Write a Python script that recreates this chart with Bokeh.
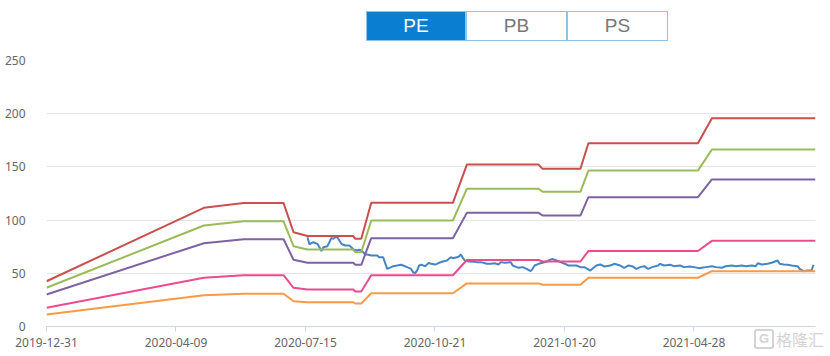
from bokeh.plotting import figure
from bokeh.models import Range1d, FixedTicker, Div
from bokeh.layouts import column
from bokeh.embed import file_html
from bokeh.resources import INLINE

# ---- data (x = trading-day index, 387 points: 2019-12-31 .. 2021-06) ----
n_points = 387
tick_idx = [0, 65, 130, 195, 260, 325]
tick_labels = ["2019-12-31", "2020-04-09", "2020-07-15", "2020-10-21", "2021-01-20", "2021-04-28"]
y_ticks = [0, 50, 100, 150, 200, 250]

band_x = [0, 79, 99, 119, 124, 131, 154, 155, 158, 163, 204, 211, 247, 249, 268, 272, 327, 334, 386]
band_red = [42.5, 111.5, 116.0, 116.0, 88.6, 85.0, 85.0, 82.4, 82.4, 116.2, 116.2, 152.2, 152.2, 148.2, 148.2, 172.2, 172.2, 195.8, 195.8]
band_green = [36.4, 94.9, 98.9, 98.9, 75.5, 72.4, 72.4, 69.8, 69.8, 99.6, 99.6, 129.4, 129.4, 126.6, 126.6, 146.5, 146.5, 166.4, 166.4]
band_purple = [30.1, 78.3, 82.0, 82.0, 62.7, 59.9, 59.9, 58.0, 58.0, 83.0, 83.0, 106.8, 106.8, 104.3, 104.3, 121.5, 121.5, 138.2, 138.2]
band_pink = [17.6, 45.8, 48.2, 48.2, 36.4, 34.8, 34.8, 32.9, 32.9, 48.2, 48.2, 62.5, 62.5, 61.1, 61.1, 70.9, 70.9, 80.5, 80.5]
band_orange = [11.3, 29.4, 30.8, 30.8, 23.8, 22.8, 22.8, 21.6, 21.6, 31.3, 31.3, 40.5, 40.5, 39.2, 39.2, 45.8, 45.8, 52.0, 52.0]

pe_x = [131, 132, 133, 134, 136, 137, 138, 139, 141, 142, 143, 144, 145, 146, 147, 148, 150, 152, 153, 154,
        156, 157, 158, 159, 160, 161, 163, 164, 166, 167, 169, 170, 171, 173, 174, 176, 178, 179, 181, 183,
        184, 185, 186, 187, 188, 190, 191, 192, 193, 195, 196, 197, 199, 201, 202, 203, 204, 206, 207, 208,
        209, 210, 212, 213, 216, 218, 221, 223, 225, 227, 228, 230, 233, 234, 236, 237, 239, 241, 243, 244,
        245, 247, 249, 251, 252, 254, 255, 257, 258, 261, 262, 266, 268, 270, 273, 274, 276, 278, 280, 283,
        285, 288, 290, 292, 294, 296, 298, 300, 302, 304, 307, 308, 310, 313, 315, 318, 320, 323, 325, 328,
        329, 331, 334, 336, 339, 341, 344, 346, 349, 351, 354, 356, 357, 359, 362, 364, 367, 368, 370, 372,
        374, 377, 378, 380, 382, 384, 385]
pe_val = [83.9, 77.1, 78.3, 79.2, 77.7, 74.5, 70.8, 74.5, 75.5, 79.2, 83.3, 82.4, 83.9, 83.9, 80.8, 77.7, 76.1, 76.1, 74.5, 72.4,
          71.4, 72.1, 71.4, 69.8, 67.7, 67.7, 66.7, 66.7, 66.7, 65.1, 65.1, 59.5, 54.2, 55.8, 56.7, 57.3, 58.0, 57.3, 55.8, 54.2,
          51.0, 50.1, 52.6, 57.3, 58.0, 56.7, 58.3, 59.9, 58.9, 58.3, 58.9, 59.9, 61.1, 62.0, 63.6, 65.1, 64.2, 65.1, 65.8, 67.7,
          64.4, 62.0, 61.1, 61.1, 60.5, 60.5, 58.9, 58.9, 59.5, 58.3, 60.5, 59.9, 60.5, 57.3, 55.8, 55.2, 55.8, 54.2, 52.0, 54.2,
          57.3, 58.9, 59.9, 61.1, 62.0, 63.6, 62.7, 61.4, 60.5, 58.3, 57.3, 57.3, 55.8, 55.8, 52.6, 54.2, 57.3, 58.3, 56.4, 57.3,
          58.9, 57.3, 55.2, 57.3, 56.7, 54.2, 55.8, 56.7, 54.2, 55.8, 57.3, 58.9, 57.3, 58.0, 56.7, 57.3, 55.8, 56.4, 55.8, 54.8,
          55.2, 55.8, 56.7, 55.8, 55.2, 56.7, 57.3, 56.7, 57.3, 56.7, 57.3, 56.7, 59.5, 58.3, 58.9, 59.9, 62.0, 58.9, 58.3, 58.0,
          57.3, 56.7, 54.2, 52.0, 52.6, 52.6, 58.0]

band_series = [
    (band_red, "#c9504e"),
    (band_green, "#9bbb59"),
    (band_purple, "#7f62a1"),
    (band_pink, "#ec4b8d"),
    (band_orange, "#f89a47"),
]
pe_color = "#4585c4"
buttons = ["PE", "PB", "PS"]
watermark = "格隆汇"

# ---- header buttons ----
btn_html = []
lefts = [366, 466, 567]
for i, (lab, lf) in enumerate(zip(buttons, lefts)):
    active = i == 0
    btn_html.append(
        f'<div style="position:absolute;left:{lf}px;top:11px;width:{101 if i else 100}px;height:30px;'
        f'box-sizing:border-box;border:1px solid #8cc4ea;'
        f'background:{"#0a7fd2" if active else "#ffffff"};color:{"#ffffff" if active else "#777777"};'
        f"font-family:'Liberation Sans',Arial,sans-serif;font-size:19px;line-height:28px;text-align:center;\">{lab}</div>"
    )
div = Div(text='<div style="position:relative;width:822px;height:46px;">' + "".join(btn_html) + "</div>",
          width=822, height=46, margin=(0, 0, 0, 0))

# ---- chart ----
p = figure(width=822, height=310, output_backend="svg", toolbar_location=None,
           x_range=Range1d(0, n_points - 1), y_range=Range1d(0, 250),
           min_border_left=46, min_border_right=7, min_border_top=14, min_border_bottom=30,
           margin=(0, 0, 0, 0))
p.outline_line_color = None
p.background_fill_color = "white"
p.border_fill_color = "white"

p.line(pe_x, pe_val, line_color=pe_color, line_width=2)
for vals, col in band_series:
    p.line(band_x, vals, line_color=col, line_width=2)

p.xgrid.visible = False
p.ygrid.grid_line_color = "#e6e6e6"
p.ygrid.ticker = FixedTicker(ticks=y_ticks)

p.yaxis.ticker = FixedTicker(ticks=y_ticks)
p.yaxis.axis_line_color = None
p.yaxis.major_tick_line_color = None
p.yaxis.minor_tick_line_color = None
p.yaxis.major_label_standoff = 15
p.yaxis.major_label_text_font = "Noto Sans"
p.yaxis.major_label_text_font_size = "12px"
p.yaxis.major_label_text_color = "#666666"

p.xaxis.ticker = FixedTicker(ticks=tick_idx)
p.xaxis.major_label_overrides = {t: l for t, l in zip(tick_idx, tick_labels)}
p.xaxis.axis_line_color = "#ccd6eb"
p.xaxis.major_tick_line_color = "#ccd6eb"
p.xaxis.minor_tick_line_color = None
p.xaxis.major_tick_in = 0
p.xaxis.major_tick_out = 5
p.xaxis.major_label_standoff = 6
p.xaxis.major_label_text_font = "Noto Sans"
p.xaxis.major_label_text_font_size = "12px"
p.xaxis.major_label_text_color = "#666666"

# ---- watermark (overlaid on the bottom-right corner) ----
wm_html = (
    '<div style="white-space:nowrap;color:#d4d4d4;">'
    '<span style="display:inline-block;box-sizing:border-box;width:20px;height:20px;border:2px solid #d4d4d4;'
    'border-radius:3px;font:bold 13px \'Liberation Sans\',sans-serif;line-height:16px;text-align:center;'
    'vertical-align:middle;">G</span>'
    f'<span style="font-family:\'Noto Sans CJK SC\';font-size:16px;margin-left:2px;vertical-align:middle;">{watermark}</span>'
    '</div>'
)
wm = Div(text=wm_html, width=72, height=24, margin=(-28, 0, 0, 754))

layout = column(div, p, wm, spacing=0, margin=(0, 0, 0, 0))
open("out.html", "w").write(file_html(layout, INLINE))
